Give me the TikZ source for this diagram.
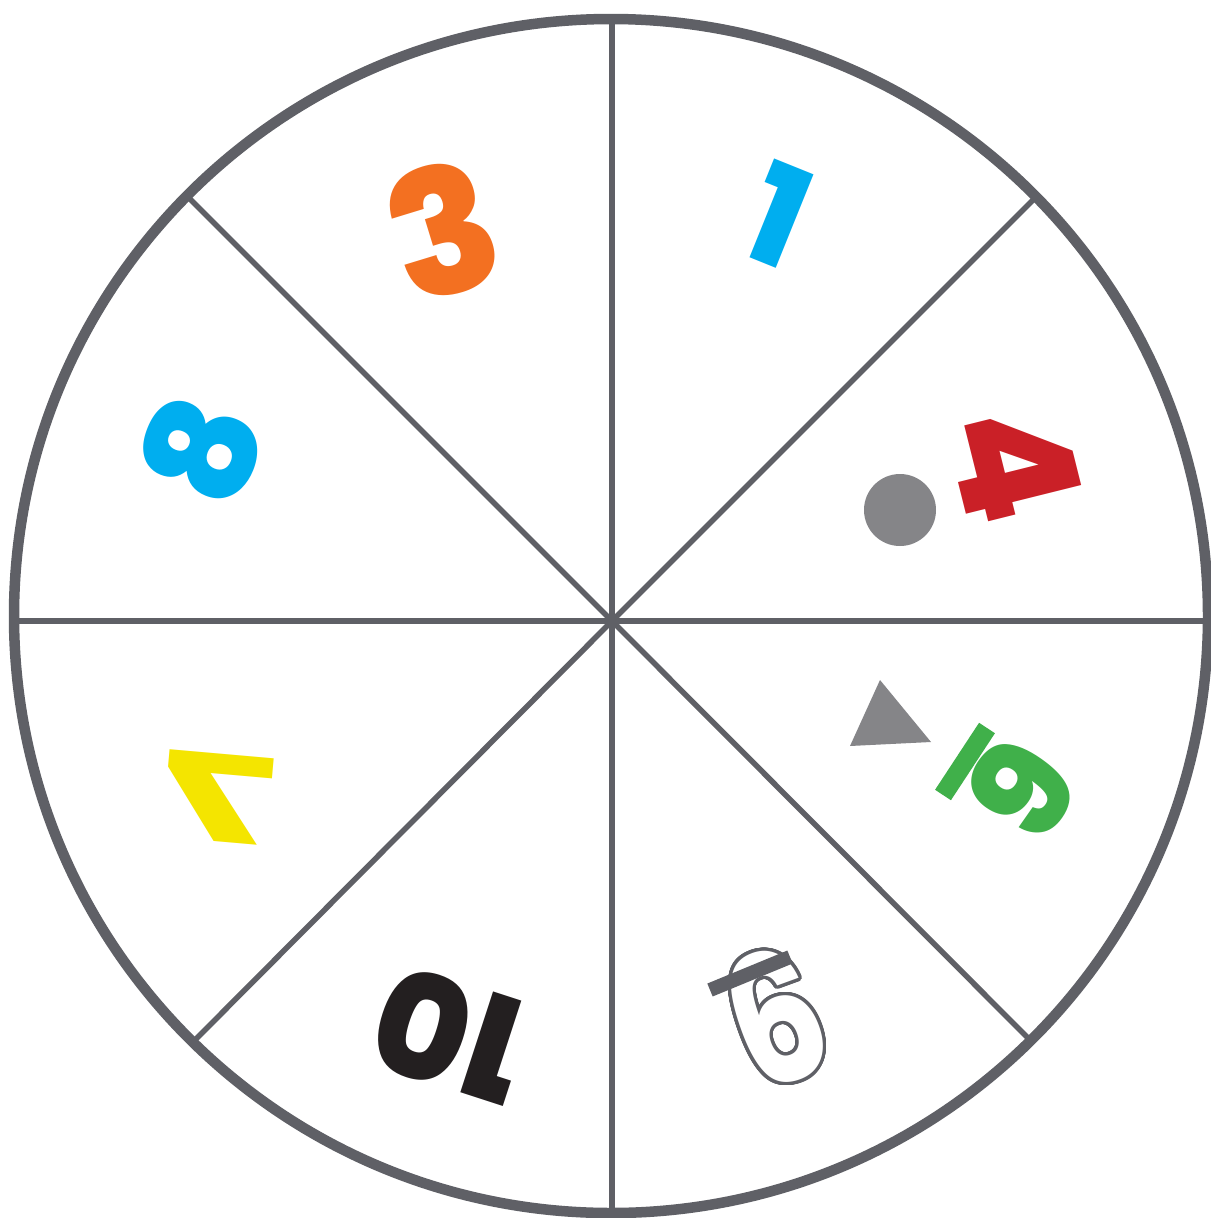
\documentclass[tikz,border=0pt]{standalone}
\usepackage{fontspec}
\setmainfont{Poppins}
\newfontfamily\heavy{Poppins ExtraBold}
\usepackage{contour}
\contourlength{3.2pt}
\contournumber{48}
\definecolor{linegray}{HTML}{5F6066}
\definecolor{shapegray}{HTML}{858588}
\definecolor{dorange}{HTML}{F37021}
\definecolor{dcyan}{HTML}{00AEEF}
\definecolor{dred}{HTML}{CA2027}
\definecolor{dgreen}{HTML}{40B04A}
\definecolor{dyellow}{HTML}{F4E500}
\definecolor{dblack}{HTML}{231F20}
\tikzset{
  rim/.style={draw=linegray, line width=10.5pt},
  spoke/.style={draw=linegray, line width=5.5pt},
  digit/.style={inner sep=0pt, font=\fontsize{#1}{#1}\selectfont\heavy},
  odigit/.style={inner sep=0pt, font=\fontsize{#1}{#1}\selectfont\bfseries},
  shp/.style={fill=shapegray, draw=none},
  greenbar/.style={draw=dgreen, line width=19pt},
  graybar/.style={draw=linegray, line width=14pt}
}
\begin{document}
\begin{tikzpicture}[x=1pt,y=-1pt]
\useasboundingbox (0,0) rectangle (1210,1218);
\fill[white] (0,0) rectangle (1210,1218);
% rim and spokes
\coordinate (c) at (612,621);
\coordinate (pN) at (612,21);
\coordinate (pS) at (612,1213);
\coordinate (pW) at (16,621);
\coordinate (pE) at (1208,621);
\coordinate (pNW) at (190,199);
\coordinate (pNE) at (1035,198);
\coordinate (pSW) at (195,1040);
\coordinate (pSE) at (1032,1042);
\foreach \p in {pN,pS,pW,pE,pNW,pNE,pSW,pSE} \draw[spoke] (c) -- (\p);
\draw[rim] (611,616) circle[radius=597];
% digits
\node[digit=175, text=dorange, rotate=17] (n3) at (443,230) {3};
\node[digit=138, text=dcyan, rotate=-22] (n1) at (778,215) {1};
\node[digit=165, text=dred, rotate=-76] (n4) at (1015,463) {4};
\node[digit=135, text=dgreen, rotate=-125] (n6) at (1022,788) {6};
\node[odigit=180, text=white, rotate=-160] (n9) at (776,1015) {\contour{linegray}{\scalebox{0.8}[1]{9}}};
\node[digit=145, text=dblack, rotate=162] (n10) at (450,1035) {10};
\node[digit=120, text=dyellow, rotate=-5] (n7) at (219,798) {\scalebox{-1.8}[1]{7}};
\node[digit=150, text=dcyan, rotate=68] (n8) at (201,449) {8};
% shapes
\fill[shp] (900,510) circle[radius=36];
\fill[shp] (880,680) -- (931,742) -- (850,746) -- cycle;
\draw[greenbar] (943,795) -- (987,728);
\draw[graybar] (710,990) -- (790,957);
\end{tikzpicture}
\end{document}
